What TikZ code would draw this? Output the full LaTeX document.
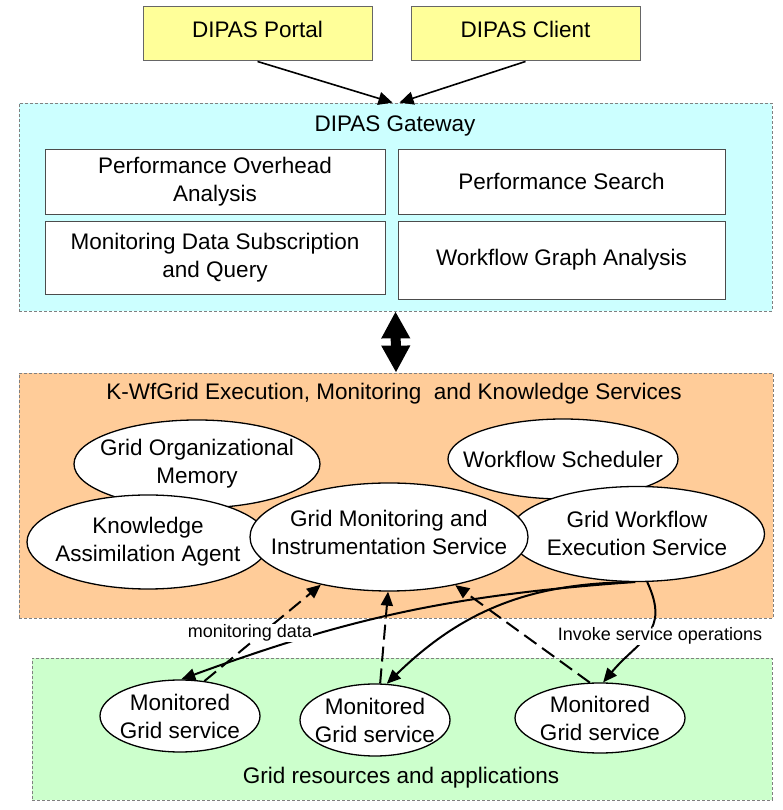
\documentclass[tikz,border=0pt]{standalone}
\usepackage{fontspec}
\setmainfont{Liberation Sans}
\usetikzlibrary{arrows.meta,positioning,shapes.geometric}
\definecolor{appyellow}{HTML}{FFFF99}
\definecolor{gwcyan}{HTML}{CCFFFF}
\definecolor{kwfpeach}{HTML}{FFCC99}
\definecolor{gridgreen}{HTML}{CCFFCC}

\begin{document}
\begin{tikzpicture}[x=1pt,y=1pt,
        every node/.style={font=\fontsize{22.5}{28}\selectfont, align=center},
        app/.style={draw=black!60, line width=1pt, fill=appyellow, minimum width=229pt, minimum height=54pt, inner sep=0pt, text height=18pt, text depth=10pt},
        area/.style={draw=black!50, dash pattern=on 3pt off 2pt, line width=0.8pt, inner sep=0pt},
        func/.style={draw=black!70, fill=white, line width=0.8pt, inner sep=0pt},
        svc/.style={ellipse, draw, fill=white, line width=1.3pt, inner sep=0pt},
        small/.style={font=\fontsize{18}{22}\selectfont, fill=white, inner sep=1pt},
        flow/.style={line width=2pt, -{Triangle[length=14pt,width=12pt]}},
        mon/.style={flow, dash pattern=on 15pt off 7pt}]
        \useasboundingbox (0,0) rectangle (782,810);

        % clients
        \node[app] (portal) at (257.5,776) {DIPAS Portal};
        \node[app] (client) at (525.5,776) {DIPAS Client};

        % gateway
        \node[area, fill=gwcyan, minimum width=753pt, minimum height=208pt] (gateway) at (395.5,603) {};
        \node (gwtitle) at (395,684) {DIPAS Gateway};
        \node[func, minimum width=340pt, minimum height=65pt] (overhead) at (215,628.5) {Performance Overhead\\Analysis};
        \node[func, minimum width=327pt, minimum height=65pt] (search) at (561.5,628.5) {Performance Search};
        \node[func, minimum width=340pt, minimum height=73pt] (subscr) at (215,552.5) {Monitoring Data Subscription\\and Query};
        \node[func, minimum width=327pt, minimum height=78pt] (wfgraph) at (561.5,550) {Workflow Graph Analysis};

        \foreach \from/\shift in {portal/-3pt,client/4pt}
        \draw[line width=1.6pt, -{Triangle[length=14pt,width=13pt]}] (\from.south) -- ([xshift=\shift]gateway.north);

        % K-WfGrid services
        \node[area, fill=kwfpeach, minimum width=754pt, minimum height=245pt] (kwf) at (396,314.5) {};
        \node (kwftitle) at (394,416) {K-WfGrid Execution, Monitoring~ and Knowledge Services};

        \draw[line width=10pt, {Triangle[length=27pt,width=27pt]}-{Triangle[length=27pt,width=27pt]}] (gateway.south) -- (kwf.north);

        \node[svc, minimum width=246pt, minimum height=88pt] (gom) at (197,346) {};
        \node[svc, minimum width=230pt, minimum height=80pt] (ws) at (563,351) {};
        \node[svc, minimum width=242pt, minimum height=94pt] (kaa) at (148,268) {};
        \node[svc, minimum width=255pt, minimum height=95pt] (gwes) at (637,276) {};
        \node[svc, minimum width=278pt, minimum height=108pt] (gmis) at (389,273) {};

        \node (gomlabel) at (197,346) {Grid Organizational\\Memory};
        \node (wslabel) at (563,351) {Workflow Scheduler};
        \node (kaalabel) at (148,268) {Knowledge\\Assimilation Agent};
        \node (gweslabel) at (637,277) {Grid Workflow\\Execution Service};
        \node (gmislabel) at (389,278) {Grid Monitoring and\\Instrumentation Service};

        % grid resources
        \node[area, fill=gridgreen, minimum width=740pt, minimum height=142pt] (grid) at (402,81) {};
        \node (gridtitle) at (401,32) {Grid resources and applications};

        \node[svc, minimum width=160pt, minimum height=72pt] (mon1) at (180,94) {};
        \node[svc, minimum width=150pt, minimum height=72pt] (mon2) at (375,90) {};
        \node[svc, minimum width=170pt, minimum height=70pt] (mon3) at (600,92) {};
        \foreach \m in {mon1,mon2,mon3}
        \node at (\m) {Monitored\\Grid service};

        % monitoring data
        \foreach \from/\to in {mon1.55/gmis.215,mon2.82/gmis.269,mon3.106/gmis.324}
        \draw[mon] (\from) -- (\to);

        % invocations
        \draw[flow] (gwes.265) to[bend right=8] (mon1.88);
        \draw[flow] (gwes.268) to[bend right=22] (mon2.72);
        \draw[flow] (gwes.282) to[out=-65,in=50,looseness=1.3] (mon3.85);

        \node[small] (mdlabel) at (250,177) {monitoring data};
        \node[small] (invlabel) at (660,174) {Invoke service operations};
      \end{tikzpicture}
\end{document}
